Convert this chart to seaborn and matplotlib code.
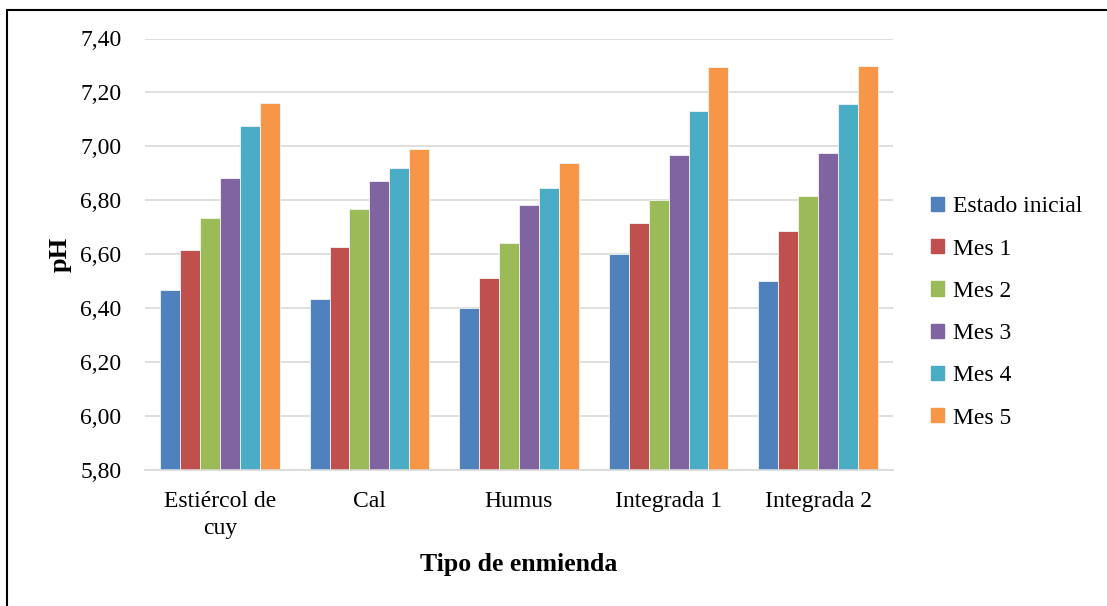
import pandas as pd
import matplotlib.pyplot as plt
import seaborn as sns
from matplotlib.lines import Line2D

# Data
enmiendas = ["Estiércol de\ncuy", "Cal", "Humus", "Integrada 1", "Integrada 2"]
periodos = ["Estado inicial", "Mes 1", "Mes 2", "Mes 3", "Mes 4", "Mes 5"]
estado_inicial = [6.467, 6.433, 6.400, 6.600, 6.500]
mes_1 = [6.614, 6.628, 6.512, 6.715, 6.685]
mes_2 = [6.733, 6.769, 6.642, 6.800, 6.817]
mes_3 = [6.883, 6.871, 6.783, 6.967, 6.976]
mes_4 = [7.076, 6.920, 6.845, 7.130, 7.158]
mes_5 = [7.160, 6.992, 6.939, 7.294, 7.299]
yticks = [5.8, 6.0, 6.2, 6.4, 6.6, 6.8, 7.0, 7.2, 7.4]

colores = ["#4F81BD", "#C0504D", "#9BBB59", "#8064A2", "#4BACC6", "#F79646"]

series = [estado_inicial, mes_1, mes_2, mes_3, mes_4, mes_5]
rows = []
for periodo, vals in zip(periodos, series):
    for enm, v in zip(enmiendas, vals):
        rows.append({"enmienda": enm, "periodo": periodo, "ph": v})
df = pd.DataFrame(rows)

sns.set_theme(style="white")
plt.rcParams["font.family"] = ["Liberation Serif", "DejaVu Serif"]
plt.rcParams["text.color"] = "black"
plt.rcParams["axes.labelcolor"] = "black"
plt.rcParams["xtick.color"] = "black"
plt.rcParams["ytick.color"] = "black"

fig = plt.figure(figsize=(11.07, 6.06), dpi=100)
ax = fig.add_axes([145 / 1107, 1 - 470 / 606, 748 / 1107, 431.5 / 606])

sns.barplot(data=df, x="enmienda", y="ph", hue="periodo", order=enmiendas,
            hue_order=periodos, palette=colores, saturation=1, width=0.8, ax=ax,
            edgecolor="#f4f4f4", linewidth=0.6, legend=False)

ax.set_ylim(5.8, 7.4)
ax.set_yticks(yticks)
ax.set_yticklabels([f"{t:.2f}".replace(".", ",") for t in yticks], fontsize=17)
ax.tick_params(axis="x", labelsize=17, length=0, pad=15)
ax.tick_params(axis="y", length=0, pad=17)
for lab in ax.get_xticklabels():
    lab.set_linespacing(1.4)
ax.yaxis.grid(True, color="#d9d9d9", linewidth=1.2)
ax.set_axisbelow(True)
for s in ["top", "right", "left"]:
    ax.spines[s].set_visible(False)
ax.spines["bottom"].set_color("#d9d9d9")
ax.spines["bottom"].set_linewidth(1.2)

ax.set_xlabel("Tipo de enmienda", fontsize=18.5, fontweight="bold", labelpad=10)
ax.set_ylabel("pH", fontsize=19, fontweight="bold", labelpad=6)

handles = [plt.Rectangle((0, 0), 1, 1, color=c) for c in colores]
ax.legend(handles, periodos, loc="center left", bbox_to_anchor=(1.023, 0.365),
          frameon=False, fontsize=17, handlelength=0.55, handleheight=0.55,
          handletextpad=0.35, labelspacing=0.9)

# outer border (left and top visible in the reference)
fig.add_artist(Line2D([7 / 1107, 7 / 1107], [0, 1 - 10 / 606], color="black", lw=1.5))
fig.add_artist(Line2D([7 / 1107, 1], [1 - 10 / 606, 1 - 10 / 606], color="black", lw=1.5))

fig.savefig("out.png", dpi=100)
